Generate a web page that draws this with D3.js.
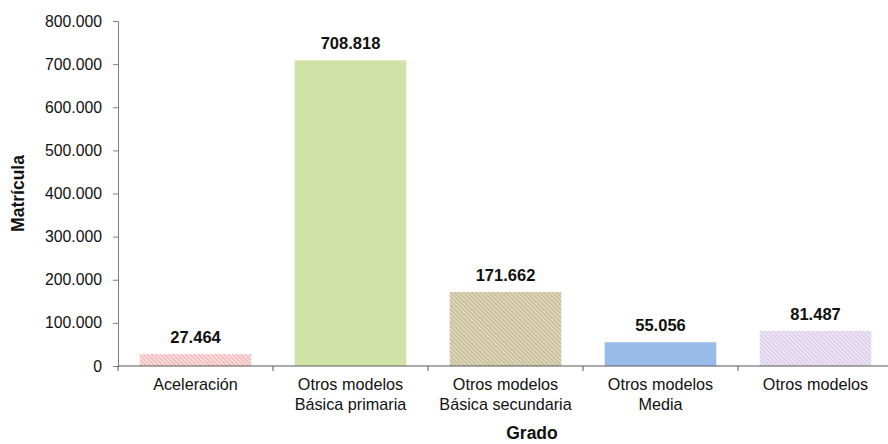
<!DOCTYPE html>
<html><head><meta charset="utf-8">
<script src="https://cdn.jsdelivr.net/npm/d3@7"></script>
<style>body{margin:0;background:#fff}svg{display:block}text{font-family:"Liberation Sans",Arial,sans-serif}</style>
</head><body>
<script>
const categories = ["Aceleración", "Otros modelos\nBásica primaria", "Otros modelos\nBásica secundaria", "Otros modelos\nMedia", "Otros modelos"];
const values = [27464, 708818, 171662, 55056, 81487];
const yTicks = [0, 100000, 200000, 300000, 400000, 500000, 600000, 700000, 800000];
const fills = ["url(#pPink)", "#d0e2a6", "url(#pKhaki)", "#98bbea", "url(#pLav)"];

const W = 888, H = 444;
const m = {l:118, r:-5, t:21, b:78};
const svg = d3.select("body").append("svg").attr("width", W).attr("height", H);
const defs = svg.append("defs");
function pat(id, bg, fg, w){
  const p = defs.append("pattern").attr("id", id).attr("patternUnits","userSpaceOnUse")
    .attr("width", 3).attr("height", 3).attr("patternTransform","rotate(-45)");
  p.append("rect").attr("width",3).attr("height",3).attr("fill",bg);
  p.append("rect").attr("width",w).attr("height",3).attr("fill",fg);
}
pat("pPink", "#fde9e9", "#f3b1b1", 1.5);
pat("pKhaki", "#e4dec5", "#c2b890", 1.5);
pat("pLav", "#f2ecf8", "#d8c9e9", 1.5);

const loc = d3.formatLocale({decimal:",", thousands:".", grouping:[3], currency:["$",""]});
const fmt = loc.format(",.0f");

const x = d3.scaleBand().domain(categories).range([m.l, W - m.r]).paddingInner(0.28).paddingOuter(0.14);
const y = d3.scaleLinear().domain([0, 800000]).range([H - m.b, m.t]);
const y0 = y(0);

svg.selectAll("rect.bar").data(values).join("rect").attr("class","bar")
  .attr("x", (d,i) => x(categories[i])).attr("width", x.bandwidth())
  .attr("y", d => y(d)).attr("height", d => y0 - y(d)).attr("fill", (d,i) => fills[i]);

svg.selectAll("text.val").data(values).join("text").attr("class","val")
  .attr("x", (d,i) => x(categories[i]) + x.bandwidth()/2).attr("y", d => y(d) - 11)
  .attr("text-anchor","middle").attr("font-size", 16.5).attr("font-weight","bold").attr("fill","#111")
  .text(d => fmt(d));

// y axis
const yAxis = svg.append("g").attr("transform", `translate(${m.l},0)`)
  .call(d3.axisLeft(y).tickValues(yTicks).tickSize(5).tickPadding(11).tickFormat(d => fmt(d)));
yAxis.select(".domain").attr("stroke","#7f7f7f");
yAxis.selectAll(".tick line").attr("stroke","#7f7f7f");
yAxis.selectAll(".tick text").attr("font-size",15.8).attr("fill","#111").attr("font-family","Liberation Sans, Arial, sans-serif");

// x axis
const step = x.step();
const bounds = [0,1,2,3,4,5].map(i => m.l + i*step);
const xg = svg.append("g");
xg.append("line").attr("x1", m.l).attr("x2", W).attr("y1", y0).attr("y2", y0).attr("stroke","#595959").attr("stroke-width",1.2);
xg.selectAll("line.tk").data(bounds).join("line").attr("class","tk")
  .attr("x1", d => d).attr("x2", d => d).attr("y1", y0).attr("y2", y0 + 5).attr("stroke","#595959");
categories.forEach((c,i) => {
  const t = xg.append("text").attr("x", x(c) + x.bandwidth()/2).attr("y", y0 + 24)
    .attr("text-anchor","middle").attr("font-size",16.2).attr("fill","#111");
  c.split("\n").forEach((ln,j) => t.append("tspan").attr("x", x(c) + x.bandwidth()/2).attr("dy", j ? 20 : 0).text(ln));
});

svg.append("text").attr("x", 532).attr("y", 439).attr("text-anchor","middle")
  .attr("font-size",17.5).attr("font-weight","bold").attr("fill","#111").text("Grado");
svg.append("text").attr("transform", `translate(24,${(m.t + y0)/2}) rotate(-90)`).attr("text-anchor","middle")
  .attr("font-size",17.5).attr("font-weight","bold").attr("fill","#111").text("Matrícula");
</script>
</body></html>
